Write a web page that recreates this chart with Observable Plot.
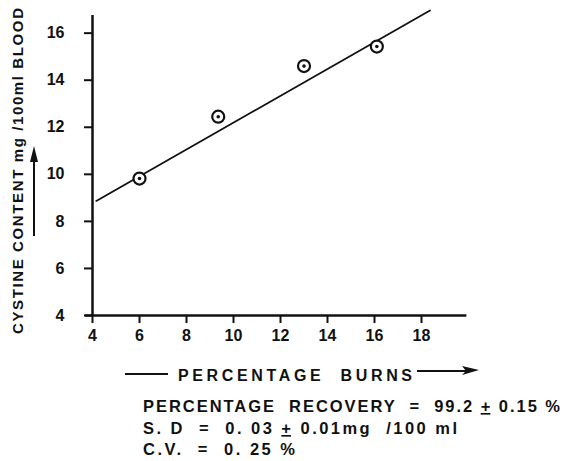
<!DOCTYPE html>
<html>
<head>
<meta charset="utf-8">
<script src="https://cdn.jsdelivr.net/npm/d3@7"></script>
<script src="https://cdn.jsdelivr.net/npm/@observablehq/plot@0.6"></script>
<style>
  html, body { margin: 0; padding: 0; background: white; }
  #chart { width: 565px; height: 461px; }
</style>
</head>
<body>
<div id="chart"></div>
<script>
const xTicks = [4, 6, 8, 10, 12, 14, 16, 18];
const yTicks = [4, 6, 8, 10, 12, 14, 16];
const burns = [6, 9.35, 13, 16.1];
const cystine = [9.82, 12.45, 14.6, 15.43];
const fitX = [4.16, 18.36];
const fitY = [8.87, 16.96];
const yLabel = "CYSTINE CONTENT mg /100ml BLOOD";
const xLabel = "PERCENTAGE  BURNS";
const captionLines = [
  ["PERCENTAGE  RECOVERY  =  99.2 ", "+", " 0.15 %"],
  ["S. D  =  0. 03 ", "+", " 0.01mg  /100 ml"],
  ["C.V.  =  0. 25 %", "", ""]
];

const points = burns.map((b, i) => ({x: b, y: cystine[i]}));
const fit = fitX.map((x, i) => ({x, y: fitY[i]}));

const ink = "#111";
const svg = Plot.plot({
  width: 565,
  height: 461,
  marginLeft: 92,
  marginRight: 97,
  marginTop: 15,
  marginBottom: 146,
  x: {domain: [4, 20]},
  y: {domain: [4, 16.75]},
  style: {fontFamily: "Liberation Sans, Arial, sans-serif", fontWeight: "bold", fontSize: "16px", background: "white", color: ink},
  marks: [
    Plot.axisX({ticks: xTicks, tickSize: 8, tickPadding: 6, strokeWidth: 2, fontSize: 16, fontWeight: "bold", label: null}),
    Plot.axisY({ticks: yTicks, tickSize: 8, tickPadding: 20, strokeWidth: 2, fontSize: 16, fontWeight: "bold", label: null}),
    Plot.ruleX([4], {stroke: ink, strokeWidth: 2.5}),
    Plot.ruleY([4], {x1: 3.7, x2: 19.93, stroke: ink, strokeWidth: 2.5}),
    Plot.line(fit, {x: "x", y: "y", stroke: ink, strokeWidth: 1.8}),
    Plot.dot(points, {x: "x", y: "y", r: 6, stroke: ink, strokeWidth: 2.2, fill: "white"}),
    Plot.dot(points, {x: "x", y: "y", r: 1.8, fill: ink})
  ]
});

const s = d3.select(svg);
const font = "Liberation Sans, Arial, sans-serif";

// Y axis label (rotated)
s.append("text")
  .attr("transform", "translate(23,171) rotate(-90)")
  .attr("text-anchor", "middle")
  .attr("font-family", font).attr("font-weight", "bold").attr("font-size", 15)
  .attr("textLength", 326).attr("lengthAdjust", "spacing")
  .attr("fill", ink)
  .text(yLabel);

// Y arrow
s.append("line").attr("x1", 34).attr("x2", 34).attr("y1", 236).attr("y2", 158)
  .attr("stroke", ink).attr("stroke-width", 2);
s.append("path").attr("d", "M34,146 L30,162 L38,162 Z").attr("fill", ink);

// X axis label with lines
s.append("line").attr("x1", 125).attr("x2", 168).attr("y1", 374).attr("y2", 374)
  .attr("stroke", ink).attr("stroke-width", 1.8);
s.append("text")
  .attr("x", 178).attr("y", 381)
  .attr("text-anchor", "start")
  .attr("font-family", font).attr("font-weight", "bold").attr("font-size", 16)
  .attr("textLength", 234).attr("lengthAdjust", "spacing")
  .attr("fill", ink)
  .text(xLabel);
s.append("line").attr("x1", 417).attr("x2", 472).attr("y1", 371).attr("y2", 371)
  .attr("stroke", ink).attr("stroke-width", 1.8);
s.append("path").attr("d", "M479,370 L462,366 L466,371 L462,375 Z").attr("fill", ink);

// Caption
const capY = [412, 434, 455];
const capLen = [417, 314, 152];
captionLines.forEach((parts, i) => {
  const t = s.append("text")
    .attr("x", 143).attr("y", capY[i])
    .attr("text-anchor", "start")
    .attr("font-family", font).attr("font-weight", "bold").attr("font-size", 16.5)
    .attr("textLength", capLen[i]).attr("lengthAdjust", "spacing")
    .attr("fill", ink)
    .attr("xml:space", "preserve").style("white-space", "pre");
  t.append("tspan").text(parts[0]);
  if (parts[1]) t.append("tspan").attr("text-decoration", "underline").text(parts[1]);
  if (parts[2]) t.append("tspan").text(parts[2]);
});

document.getElementById("chart").appendChild(svg);
</script>
</body>
</html>
